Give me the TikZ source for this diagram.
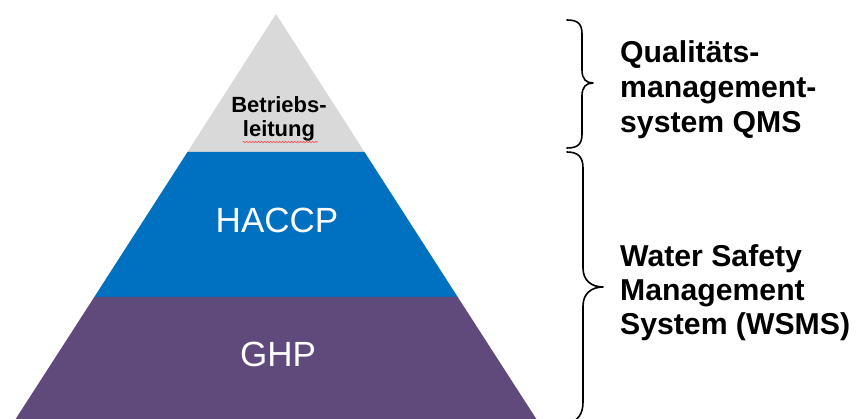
\documentclass[tikz,border=0pt]{standalone}
\usepackage{fontspec}
\setmainfont{Liberation Sans}
\usetikzlibrary{decorations.pathmorphing}
\definecolor{tipgray}{HTML}{D9D9D9}
\definecolor{midblue}{HTML}{0070C0}
\definecolor{basepurple}{HTML}{604A7B}
\tikzset{
  bracepath/.style={draw=black, line width=1.6pt, line cap=round, line join=round},
  sidetext/.style={anchor=base west, inner sep=0pt, font=\bfseries\fontsize{30.2}{34}\selectfont},
  layertext/.style={anchor=base, inner sep=0pt, text=white, font=\fontsize{35}{40}\selectfont},
  toptext/.style={anchor=base, inner sep=0pt, font=\bfseries\fontsize{22}{24}\selectfont}
}
\begin{document}
\begin{tikzpicture}[x=1pt, y=-1pt]
  \useasboundingbox (0,0) rectangle (857,419);
  % pyramid layers: apex (276,14), base half-width 261 at y=419
  \fill[tipgray]    (276,14) -- (187.5,152) -- (364.5,152) -- cycle;
  \fill[midblue]    (187.5,152) -- (94.3,297) -- (457.7,297) -- (364.5,152) -- cycle;
  \fill[basepurple] (94.3,297) -- (15,420) -- (537,420) -- (457.7,297) -- cycle;

  % layer labels
  \node[toptext] (b1) at (279,113) {Betriebs-};
  \node[toptext] (b2) at (279,137) {leitung};
  \draw[red!75, line width=0.6pt, decorate,
        decoration={snake, segment length=3pt, amplitude=0.6pt}]
        (b2.base west) ++(0,5) -- ++(75,0);
  \node[layertext] (haccp) at (277,233) {HACCP};
  \node[layertext] (ghp) at (278,367) {GHP};

  % upper brace
  \draw[bracepath] (567,20) .. controls (578,20) and (582,24) .. (582,34)
      -- (582,70) .. controls (582,79) and (586,83) .. (593,83)
      .. controls (586,83) and (582,87) .. (582,96)
      -- (582,134) .. controls (582,144) and (578,148) .. (567,148);
  % lower brace
  \draw[bracepath] (567,152) .. controls (578,152) and (583,157) .. (583,168)
      -- (583,268) .. controls (583,280) and (591,287) .. (603,287)
      .. controls (591,287) and (583,294) .. (583,306)
      -- (583,402) .. controls (583,414) and (578,421) .. (567,424);

  % labels beside the braces
  \node[sidetext] (q1) at (620,63) {Qualitäts-};
  \node[sidetext] (q2) at (620,98) {management-};
  \node[sidetext] (q3) at (620,133) {system QMS};
  \node[sidetext] (w1) at (620,267) {Water Safety};
  \node[sidetext] (w2) at (620,301) {Management};
  \node[sidetext] (w3) at (620,335) {System (WSMS)};
\end{tikzpicture}
\end{document}
